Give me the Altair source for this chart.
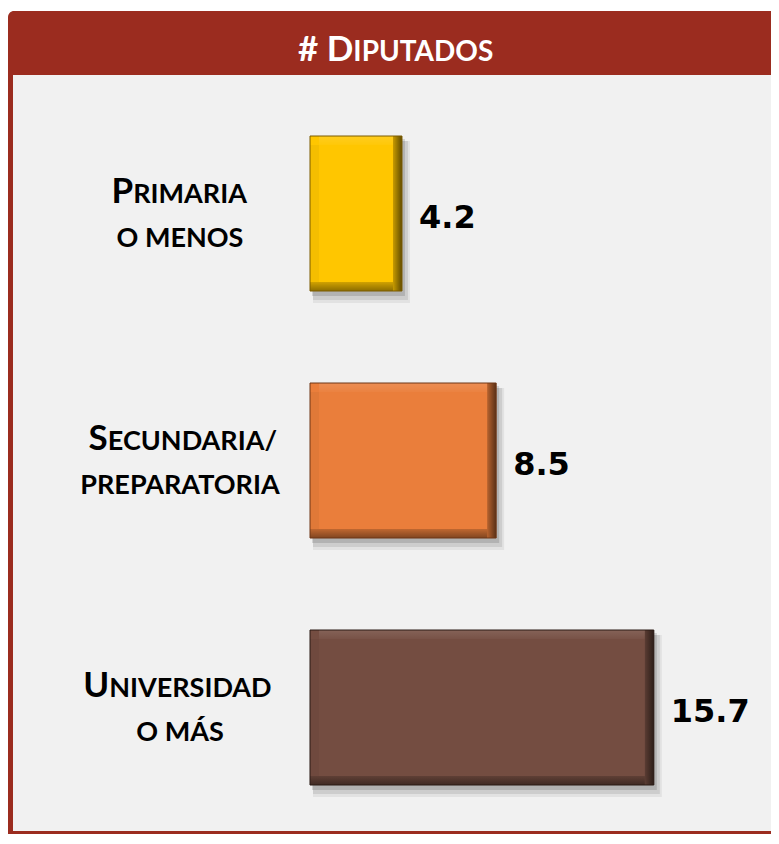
import altair as alt
import pandas as pd

# ---------------- data ----------------
categories = ["Primaria o menos", "Secundaria/ preparatoria", "Universidad o más"]
line1 = ["Primaria", "Secundaria/", "Universidad"]
line2 = ["o menos", "preparatoria", "o más"]
values = [4.2, 8.5, 15.7]
title_text = "# Diputados"

# ---------------- layout / style ----------------
W, H = 763, 826
PX_PER_UNIT = 21.9
X0 = 302.0                      # pixel of value 0
xdom = [-X0 / PX_PER_UNIT, (W - X0) / PX_PER_UNIT]
STEP = 247.0
FIRST = 205.5
d0 = 1 - FIRST / STEP
ydom = [d0, d0 + H / STEP]
HALF = 77.5 / STEP

BASE = ["#FFC600", "#EA7E3B", "#744D41"]
OUTLINE = ["#7A5A00", "#6E3617", "#2A1A15"]
RED = "#9B2C1F"
PANEL = "#F1F1F1"

LABEL_FONT = "Lato"
SMALL, BIG = 27, 35
T_SMALL, T_BIG = 28, 35
LABEL_C1, LABEL_C2 = 169, 172
BEV = 9


def est_width(s, size):
    w = 0.0
    for ch in s:
        if ch in "I":
            w += 0.30
        elif ch in "/":
            w += 0.40
        elif ch == " ":
            w += 0.26
        elif ch == "#":
            w += 0.58
        elif ch in "MW":
            w += 0.86
        else:
            w += 0.66
    return w * size


rows = []
for i, (c, a, b, v) in enumerate(zip(categories, line1, line2, values)):
    init, rest = a[0].upper(), a[1:].upper()
    wi, wr = est_width(init, BIG), est_width(rest, SMALL)
    xs = LABEL_C1 - (wi + wr) / 2 + wi
    rows.append(dict(cat=c, value=v, pos=i + 1, init=init, rest=rest,
                     l2=b.upper(), xs=xs, c2=LABEL_C2))
df = pd.DataFrame(rows)

xsc = alt.Scale(domain=xdom, nice=False, zero=False)
ysc = alt.Scale(domain=ydom, nice=False, zero=False, reverse=True)

base = alt.Chart(df).transform_calculate(
    zero="0", lo=f"datum.pos - {HALF}", hi=f"datum.pos + {HALF}"
)


def rect_enc(xf="zero:Q", x2f="value:Q", yf="lo:Q", y2f="hi:Q"):
    return dict(
        x=alt.X(xf, scale=xsc, axis=None),
        x2=x2f,
        y=alt.Y(yf, scale=ysc, axis=None),
        y2=y2f,
    )


def shadow(op, xo, x2o, yo, y2o):
    return base.mark_rect(color="black", opacity=op, xOffset=xo, x2Offset=x2o,
                          yOffset=yo, y2Offset=y2o).encode(**rect_enc())


def grad(x2, y2, stops):
    return alt.Gradient(gradient="linear", x1=0, y1=0, x2=x2, y2=y2,
                        stops=[alt.GradientStop(offset=o, color=c) for o, c in stops])


bar_base = base.mark_rect().encode(
    fill=alt.Fill("cat:N", scale=alt.Scale(domain=categories, range=BASE), legend=None),
    **rect_enc())
# top bevel (slight highlight)
bev_top = base.mark_rect(color=grad(0, 1, [(0, "rgba(255,255,255,0.12)"), (1, "rgba(255,255,255,0.03)")]),
                         xOffset=BEV, x2Offset=-BEV, yOffset=0, y2Offset=BEV).encode(
    x=alt.X("zero:Q", scale=xsc, axis=None), x2="value:Q",
    y=alt.Y("lo:Q", scale=ysc, axis=None), y2="lo:Q")
# left bevel (slight shade)
bev_left = base.mark_rect(color="rgba(0,0,0,0.04)", xOffset=0, x2Offset=BEV,
                          yOffset=BEV, y2Offset=-BEV).encode(
    x=alt.X("zero:Q", scale=xsc, axis=None), x2="zero:Q",
    y=alt.Y("lo:Q", scale=ysc, axis=None), y2="hi:Q")
# bottom bevel
bev_bottom = base.mark_rect(color=grad(0, 1, [(0, "rgba(0,0,0,0.18)"), (1, "rgba(0,0,0,0.45)")]),
                            xOffset=0, x2Offset=-BEV, yOffset=-BEV, y2Offset=0).encode(
    x=alt.X("zero:Q", scale=xsc, axis=None), x2="value:Q",
    y=alt.Y("hi:Q", scale=ysc, axis=None), y2="hi:Q")
# right bevel
bev_right = base.mark_rect(color=grad(1, 0, [(0, "rgba(0,0,0,0.22)"), (1, "rgba(0,0,0,0.62)")]),
                           xOffset=-BEV, x2Offset=0, yOffset=0, y2Offset=0).encode(
    x=alt.X("value:Q", scale=xsc, axis=None), x2="value:Q",
    y=alt.Y("lo:Q", scale=ysc, axis=None), y2="hi:Q")
bar_outline = base.mark_rect(fillOpacity=0, strokeWidth=1).encode(
    stroke=alt.Stroke("cat:N", scale=alt.Scale(domain=categories, range=OUTLINE), legend=None),
    **rect_enc())

one = pd.DataFrame({"k": [0]})
deco_title = alt.Chart(one).mark_rect(color=RED, cornerRadiusTopLeft=6).encode(
    x=alt.value(0), x2=alt.value(W), y=alt.value(3), y2=alt.value(67))
deco_panel = alt.Chart(one).mark_rect(color=PANEL).encode(
    x=alt.value(5), x2=alt.value(W), y=alt.value(67), y2=alt.value(H - 3))
deco_left = alt.Chart(one).mark_rect(color=RED).encode(
    x=alt.value(0), x2=alt.value(5), y=alt.value(60), y2=alt.value(H))
deco_bottom = alt.Chart(one).mark_rect(color=RED).encode(
    x=alt.value(0), x2=alt.value(W), y=alt.value(H - 3), y2=alt.value(H))

# title in small caps
t_init, t_rest = "# D", title_text[3:].upper()
twi, twr = est_width(t_init, T_BIG), est_width(t_rest, T_SMALL)
t_xs = 388 - (twi + twr) / 2 + twi
tdf = pd.DataFrame({"init": [t_init], "rest": [t_rest], "xs": [t_xs]})
title_big = alt.Chart(tdf).mark_text(font=LABEL_FONT, fontSize=T_BIG, color="white",
                                     align="right", baseline="alphabetic", fontWeight="bold").encode(
    x=alt.X("xs:Q", scale=None), y=alt.value(53), text="init:N")
title_small = alt.Chart(tdf).mark_text(font=LABEL_FONT, fontSize=T_SMALL, color="white",
                                       align="left", baseline="alphabetic", fontWeight="bold").encode(
    x=alt.X("xs:Q", scale=None), y=alt.value(53), text="rest:N")

lab_big = base.mark_text(font=LABEL_FONT, fontSize=BIG, color="black", align="right",
                         baseline="alphabetic", dy=-10.5, fontWeight="bold").encode(
    x=alt.X("xs:Q", scale=None), y=alt.Y("pos:Q", scale=ysc, axis=None), text="init:N")
lab_small = base.mark_text(font=LABEL_FONT, fontSize=SMALL, color="black", align="left",
                           baseline="alphabetic", dy=-10.5, fontWeight="bold").encode(
    x=alt.X("xs:Q", scale=None), y=alt.Y("pos:Q", scale=ysc, axis=None), text="rest:N")
lab_two = base.mark_text(font=LABEL_FONT, fontSize=SMALL, color="black", align="center",
                         baseline="alphabetic", dy=33.5, fontWeight="bold").encode(
    x=alt.X("c2:Q", scale=None), y=alt.Y("pos:Q", scale=ysc, axis=None), text="l2:N")

val_text = base.mark_text(font="DejaVu Sans", fontSize=32, fontWeight="bold", color="black",
                          align="left", baseline="alphabetic", dx=17, dy=14.5).encode(
    x=alt.X("value:Q", scale=xsc, axis=None),
    y=alt.Y("pos:Q", scale=ysc, axis=None),
    text=alt.Text("value:Q", format=".1f"))

chart = alt.layer(
    deco_panel, deco_title, deco_left, deco_bottom,
    title_big, title_small,
    shadow(0.06, 3, 8, 5, 12),
    shadow(0.09, 3, 6, 5, 9),
    shadow(0.13, 2, 3, 3, 5),
    bar_base, bev_top, bev_left, bev_bottom, bev_right, bar_outline,
    lab_big, lab_small, lab_two, val_text,
).properties(
    width=W, height=H, padding=0, autosize=alt.AutoSizeParams(type="none"),
    background="white",
).configure_view(stroke=None)

chart.save("out.html", embed_options={"renderer": "svg", "actions": False})
